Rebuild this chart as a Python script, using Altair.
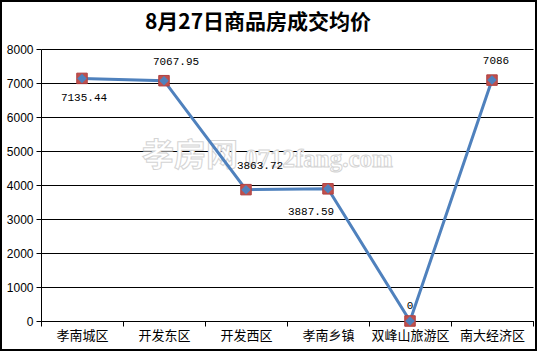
import altair as alt
import pandas as pd

categories = ["孝南城区", "开发东区", "开发西区", "孝南乡镇", "双峰山旅游区", "南大经济区"]
values = [7135.44, 7067.95, 3863.72, 3887.59, 0, 7086]
labels = ["7135.44", "7067.95", "3863.72", "3887.59", "0", "7086"]
y_ticks = [0, 1000, 2000, 3000, 4000, 5000, 6000, 7000, 8000]
title_text = "8月27日商品房成交均价"

df = pd.DataFrame({"cat": categories, "val": values, "lab": labels})

W, H = 492, 272
LINE = "#4f81bd"

x_enc = alt.X("cat:N", sort=categories,
              scale=alt.Scale(paddingInner=0, paddingOuter=0),
              axis=alt.Axis(title=None, labelAngle=0, tickBand="extent", tickSize=5,
                            tickColor="black", domainColor="black", labelColor="black",
                            labelFont="Noto Sans CJK SC", labelFontSize=13, labelPadding=3,
                            grid=False))
y_enc = alt.Y("val:Q", scale=alt.Scale(domain=[0, 8000], nice=False),
              axis=alt.Axis(title=None, values=y_ticks, tickSize=5, tickColor="black",
                            domainColor="black", gridColor="black", gridOpacity=1,
                            labelColor="black", labelFont="Liberation Sans",
                            labelFontSize=12, labelPadding=3, format="d"))

base = alt.Chart(df)
one = alt.datum.cat == categories[0]

border = base.mark_rect(fill=None, stroke="black", strokeWidth=2, clip=False).encode(
    x=alt.value(-40), x2=alt.value(W + 3), y=alt.value(-48), y2=alt.value(H + 29)
).transform_filter(one)

title = base.mark_text(text=title_text, font="Noto Sans CJK SC", fontSize=21,
                       fontWeight="bold", color="black", baseline="middle").encode(
    x=alt.value(217), y=alt.value(-26)
).transform_filter(one)

wm1 = base.mark_text(text="孝房网", font="Noto Sans CJK SC", fontSize=32, fontWeight="bold",
                     fill="white", stroke="#d4d4d4", strokeWidth=1).encode(
    x=alt.value(149), y=alt.value(107)
).transform_filter(one)
wm2 = base.mark_text(text="0712fang.com", font="Liberation Serif", fontSize=25, fontWeight="bold",
                     fill="white", stroke="#d4d4d4", strokeWidth=1).encode(
    x=alt.value(278), y=alt.value(110)
).transform_filter(one)

line = base.mark_line(color=LINE, strokeWidth=3).encode(x=x_enc, y=y_enc)
sq = base.mark_point(shape="square", size=110, filled=True, fill="#c0504d",
                     stroke="#b04040", strokeWidth=1, opacity=1).encode(x=x_enc, y=y_enc)
dm = base.mark_point(shape="diamond", size=90, filled=True, fill=LINE,
                     opacity=1, strokeWidth=0).encode(x=x_enc, y=y_enc)

offsets = {
    "孝南城区": (2, 20),
    "开发东区": (12, -19),
    "开发西区": (14, -24),
    "孝南乡镇": (-17, 23),
    "双峰山旅游区": (0, -15),
    "南大经济区": (4, -19),
}
text_layers = []
for c, (dx, dy) in offsets.items():
    text_layers.append(
        base.mark_text(font="Liberation Mono", fontSize=11, color="black", dx=dx, dy=dy)
        .encode(x=x_enc, y=y_enc, text="lab:N")
        .transform_filter(alt.datum.cat == c)
    )

end_tick = base.mark_rule(color="black").encode(
    x=alt.value(W + 0.5), y=alt.value(H), y2=alt.value(H + 5)
).transform_filter(one)

chart = alt.layer(border, title, wm1, wm2, line, sq, dm, end_tick, *text_layers).properties(
    width=W, height=H,
    autosize=alt.AutoSizeParams(type="none"),
    padding={"left": 41, "top": 49, "right": 5, "bottom": 32},
    background="white",
).configure_view(stroke=None)

chart.save("out.html", embed_options={"renderer": "svg", "actions": False})
